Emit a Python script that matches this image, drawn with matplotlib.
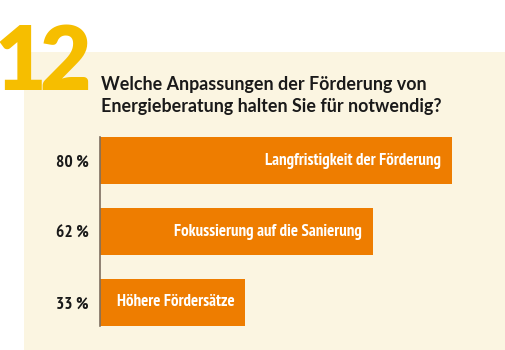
import matplotlib
matplotlib.use('Agg')
import matplotlib.pyplot as plt
from matplotlib.patches import Rectangle

# data
categories = ['Langfristigkeit der Förderung', 'Fokussierung auf die Sanierung', 'Höhere Fördersätze']
values = [80, 62, 33]
value_labels = ['80\u2009%', '62\u2009%', '33\u2009%']
question_no = '12'
title_lines = ['Welche Anpassungen der Förderung von', 'Energieberatung halten Sie für notwendig?']

W, H = 506, 350
fig = plt.figure(figsize=(W / 100, H / 100), dpi=100)
fig.patch.set_facecolor('white')

# beige panel
fig.patches.append(Rectangle((24 / W, 0), 1 - 24 / W, (H - 52) / H,
                             transform=fig.transFigure, facecolor='#fbf5e1',
                             edgecolor='none', zorder=-5))

orange = '#ee7d00'
narrow = ['PT Sans Narrow', 'DejaVu Sans']
sans = ['Lato', 'DejaVu Sans']

# axes placed in pixel coords
left, right, top, bottom = 100, 496, 125, 338
ax = fig.add_axes([left / W, 1 - bottom / H, (right - left) / W, (bottom - top) / H])
ax.set_zorder(2)
ax.patch.set_visible(False)
ypos = list(range(len(values)))
ax.barh(ypos, values, height=0.66, color=orange, zorder=2)
ax.set_xlim(0, 90)
ax.set_ylim(2.5, -0.5)
for s in ['top', 'right', 'bottom']:
    ax.spines[s].set_visible(False)
ax.spines['left'].set_bounds(-0.33, 2.33)
ax.spines['left'].set_color('#7d6e60')
ax.spines['left'].set_linewidth(1.2)
ax.set_xticks([])
ax.set_yticks(ypos)
ax.set_yticklabels(value_labels, family=narrow, fontweight='bold', fontsize=12.5, color='#1a1a1a')
ax.tick_params(axis='y', length=0, pad=8)

for y, v, c in zip(ypos, values, categories):
    ax.text(v - 2.5, y, c, ha='right', va='center', color='white',
            family=narrow, fontweight='bold', fontsize=12.2, zorder=3)

# big number and question
for ch, xc in zip(question_no, [20, 65]):
    fig.text(xc / W, 1 - 90 / H, ch, color='#f6be00', fontsize=64,
             fontweight='heavy', family=sans, ha='center', va='baseline')
for i, line in enumerate(title_lines):
    fig.text(101 / W, 1 - (90 + 22 * i) / H, line, color='#1a1a1a', fontsize=12.9,
             fontweight='bold', family=sans, ha='left', va='baseline')

fig.savefig('out.png', dpi=100)
